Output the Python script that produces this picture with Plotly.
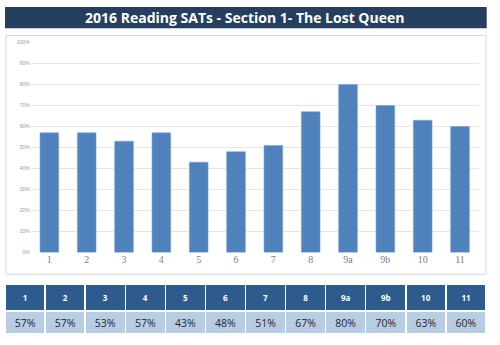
import plotly.graph_objects as go

# ---- data ----
categories = ["1", "2", "3", "4", "5", "6", "7", "8", "9a", "9b", "10", "11"]
scores = [0.57, 0.57, 0.53, 0.57, 0.43, 0.48, 0.51, 0.67, 0.80, 0.70, 0.63, 0.60]
score_labels = ["57%", "57%", "53%", "57%", "43%", "48%", "51%", "67%", "80%", "70%", "63%", "60%"]
title_text = "2016 Reading SATs - Section 1- The Lost Queen"

W, H = 500, 345

def px_x(x):
    return x / W

def px_y(y):
    return (H - y) / H

fig = go.Figure()

fig.add_trace(go.Bar(
    x=categories,
    y=scores,
    marker=dict(color="#4F81BD", line=dict(color="#7DA2D0", width=0.6)),
    hoverinfo="x+y",
    showlegend=False,
))

fig.add_trace(go.Table(
    domain=dict(x=[px_x(5), px_x(486.5)], y=[px_y(336.5), px_y(286)]),
    columnwidth=[1] * len(categories),
    header=dict(
        values=[f"<b>{c}</b>" for c in categories],
        fill_color="#2E5B8D",
        line=dict(color="white", width=1.4),
        font=dict(family="Open Sans", size=8, color="white"),
        align="center",
        height=24,
    ),
    cells=dict(
        values=[[s] for s in score_labels],
        fill_color="#B8CCE4",
        line=dict(color="white", width=1.4),
        font=dict(family="Open Sans", size=10.5, color="#262626"),
        align="center",
        height=24,
    ),
))

fig.update_layout(
    width=W,
    height=H,
    margin=dict(l=0, r=0, t=0, b=0),
    paper_bgcolor="white",
    plot_bgcolor="white",
    bargap=0.5,
    xaxis=dict(
        domain=[px_x(30.7), px_x(478.7)],
        type="category",
        showgrid=False,
        showline=False,
        zeroline=False,
        ticks="",
        tickfont=dict(family="Liberation Serif", size=10, color="#808080"),
    ),
    yaxis=dict(
        domain=[px_y(253.8), px_y(40.3)],
        range=[0, 1],
        dtick=0.1,
        tickformat=".0%",
        showgrid=True,
        gridcolor="#E6E6E6",
        gridwidth=1,
        zeroline=False,
        showline=False,
        ticks="",
        tickfont=dict(family="Liberation Sans", size=5, color="#999999"),
    ),
    shapes=[
        dict(type="rect", xref="paper", yref="paper",
             x0=px_x(5), x1=px_x(486.7), y0=px_y(25.7), y1=px_y(4),
             fillcolor="#243F60", line=dict(width=0), layer="below"),
        dict(type="rect", xref="paper", yref="paper",
             x0=px_x(6), x1=px_x(486), y0=px_y(276), y1=px_y(33),
             fillcolor="rgba(0,0,0,0)", line=dict(color="#D9D9D9", width=1), layer="below"),
    ],
    annotations=[
        dict(text=f"<b>{title_text}</b>", xref="paper", yref="paper",
             x=px_x(244), y=px_y(15), xanchor="center", yanchor="middle",
             showarrow=False,
             font=dict(family="Open Sans", size=14, color="white")),
    ],
)

fig.write_html("out.html")
